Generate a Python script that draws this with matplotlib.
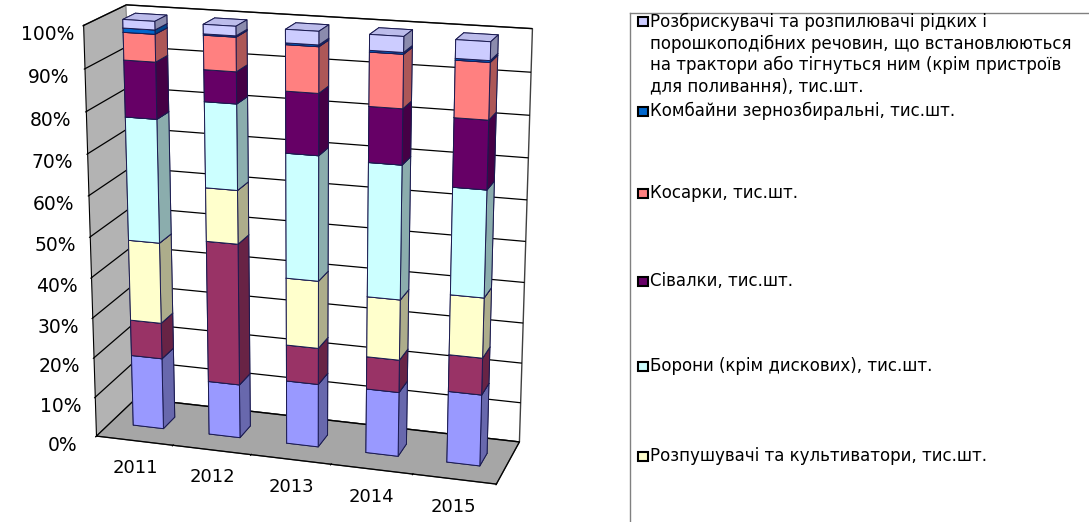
import numpy as np
import matplotlib.pyplot as plt
from matplotlib.colors import to_rgb
from matplotlib.patches import Rectangle
from matplotlib.lines import Line2D

plt.rcParams['font.family'] = ['DejaVu Sans']

years = ['2011', '2012', '2013', '2014', '2015']

# частки, % (знизу вгору); дві нижні серії в легенду не потрапили
s_bottom1 = [18.0, 13.5, 15.8, 16.0, 17.6]
s_bottom2 = [9.0, 35.0, 9.0, 8.0, 9.0]
rozpush = [20.0, 13.0, 16.5, 14.7, 14.5]
borony = [30.0, 20.5, 30.0, 32.0, 25.4]
sivalky = [13.5, 7.5, 14.5, 13.0, 16.0]
kosarky = [6.5, 8.0, 10.7, 12.4, 13.0]
kombainy = [1.0, 0.3, 0.4, 0.4, 0.4]
rozbrysk = [2.0, 2.2, 3.1, 3.6, 4.2]

series = [s_bottom1, s_bottom2, rozpush, borony, sivalky, kosarky, kombainy, rozbrysk]
colors = ['#9999FF', '#993366', '#FFFFCC', '#CCFFFF', '#660066', '#FF8080', '#0066CC', '#CCCCFF']

legend_labels = [
    'Розбрискувачі та розпилювачі рідких і\nпорошкоподібних речовин, що встановлюються\nна трактори або тігнуться ним (крім пристроїв\nдля поливання), тис.шт.',
    'Комбайни зернозбиральні, тис.шт.',
    'Косарки, тис.шт.',
    'Сівалки, тис.шт.',
    'Борони (крім дискових), тис.шт.',
    'Розпушувачі та культиватори, тис.шт.',
]
legend_colors = ['#CCCCFF', '#0066CC', '#FF8080', '#660066', '#CCFFFF', '#FFFFCC']

data = np.array(series)
shares = data / data.sum(axis=0) * 100


def face_colors(c, n):
    c = np.array(to_rgb(c))
    side = c * 0.68
    top = c * 0.92
    # порядок граней у bar3d: -z, +z, -y, +y, -x, +x
    one = [c, top, c, c, side, side]
    return [tuple(f) for f in one] * n


fig = plt.figure(figsize=(10.89, 5.22), dpi=100)
ax = fig.add_axes([-0.026, -0.105, 0.6, 1.26], projection='3d')
ax.view_init(elev=17, azim=-73)
ax.set_proj_type('persp', focal_length=0.6)
ax.set_box_aspect((4.5, 1.2, 4.6), zoom=0.91)

x = np.arange(len(years))
bottom = np.zeros(len(years))
for vals, col in zip(shares, colors):
    ax.bar3d(x - 0.2, 0.35, bottom, 0.4, 0.3, vals, color=face_colors(col, len(x)),
             edgecolor='#1a1a50', linewidth=0.7, shade=False)
    bottom += vals

ax.set_xlim(-0.5, 4.5)
ax.set_ylim(0, 1)
ax.set_zlim(0, 100)
ax.set_xticks(np.arange(-0.5, 5, 1.0))
ax.set_xticklabels([])
for xi, yr in zip(x, years):
    ax.text(xi, 0, -7, yr, fontsize=13, ha='center', va='center')
ax.set_yticks([])
ax.set_zticks(np.arange(0, 101, 10))
ax.set_zticklabels([f'{v}%' for v in range(0, 101, 10)], fontsize=13.5)
ax.zaxis.set_ticks_position('lower')
ax.tick_params(axis='z', pad=12)
for a in (ax.xaxis, ax.yaxis, ax.zaxis):
    a.label.set_visible(False)
    a.offsetText.set_visible(False)

ax.xaxis.set_pane_color('#b3b3b3')
ax.yaxis.set_pane_color('white')
ax.zaxis.set_pane_color('#a6a6a6')
for a in (ax.xaxis, ax.yaxis, ax.zaxis):
    a.pane.set_edgecolor('#404040')
ax.xaxis._axinfo['grid']['linewidth'] = 0
ax.yaxis._axinfo['grid']['linewidth'] = 0
ax.zaxis._axinfo['grid']['color'] = 'black'
ax.zaxis._axinfo['grid']['linewidth'] = 0.9

# легенда (обрізана, як в оригіналі)
fig.add_artist(Line2D([0.5785, 0.5785], [0, 0.975], color='#808080', lw=1))
fig.add_artist(Line2D([0.5785, 1.0], [0.975, 0.975], color='#808080', lw=1))
ys = [21, 111, 193, 281, 366, 456]
for lab, col, yy in zip(legend_labels, legend_colors, ys):
    yf = 1 - yy / 522
    fig.add_artist(Rectangle((0.5855, yf - 0.0105), 0.0092, 0.019, facecolor=col,
                             edgecolor='black', lw=1.5))
    if '\n' in lab:
        fig.text(0.5965, yf + 0.016, lab, fontsize=12, va='top', ha='left', linespacing=1.24)
    else:
        fig.text(0.5965, yf, lab, fontsize=12, va='center', ha='left')

fig.savefig('out.png', dpi=100)
